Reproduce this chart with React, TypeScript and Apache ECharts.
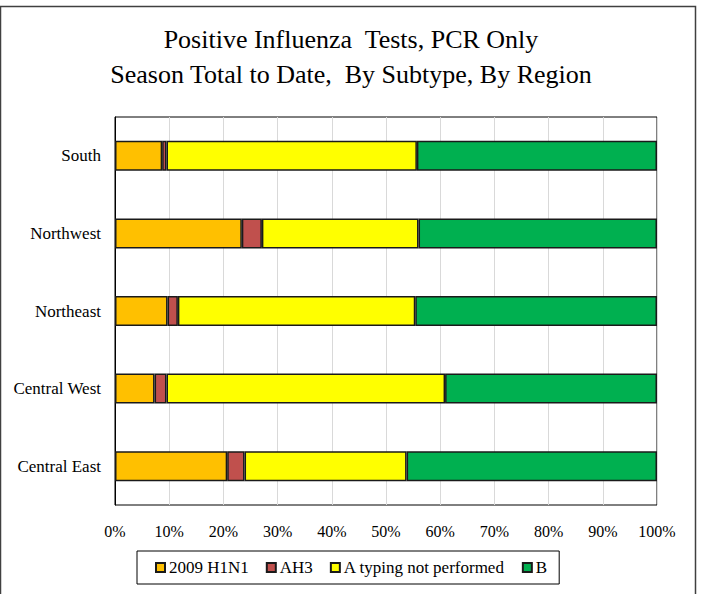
import React, { useEffect, useRef } from "react";
import * as echarts from "echarts";

const regions = ["South", "Northwest", "Northeast", "Central West", "Central East"];
const h1n1 = [8.7, 23.4, 9.7, 7.3, 20.7];
const ah3 = [0.8, 3.7, 1.9, 2.2, 3.2];
const aNotTyped = [46.2, 28.9, 43.8, 51.4, 29.9];
const bType = [44.3, 44.0, 44.6, 39.1, 46.2];
const xTicks = [0, 10, 20, 30, 40, 50, 60, 70, 80, 90, 100];

const seriesNames = ["2009 H1N1", "AH3", "A typing not performed", "B"];
const seriesColors = ["#FFC000", "#C0504D", "#FFFF00", "#00B050"];
const seriesData = [h1n1, ah3, aNotTyped, bType];

const FONT = '"Liberation Serif", "Times New Roman", serif';

export default function App() {
  const ref = useRef<HTMLDivElement>(null);
  useEffect(() => {
    if (!ref.current) return;
    const chart = echarts.init(ref.current, null, { renderer: "svg" });
    chart.setOption({
      animation: false,
      backgroundColor: "#ffffff",
      textStyle: { fontFamily: FONT },
      title: {
        text: "Positive Influenza  Tests, PCR Only\nSeason Total to Date,  By Subtype, By Region",
        left: "center",
        top: 17,
        textStyle: {
          fontFamily: FONT,
          fontSize: 26,
          fontWeight: "normal",
          color: "#000",
          lineHeight: 35,
        },
      },
      graphic: [
        {
          type: "rect",
          shape: { x: 0.5, y: 6.5, width: 695, height: 600 },
          style: { fill: "none", stroke: "#404040", lineWidth: 1.5 },
          silent: true,
        },
      ],
      legend: {
        data: seriesNames,
        left: 137,
        top: 551,
        padding: [8, 12, 8, 18],
        itemGap: 17,
        itemWidth: 9,
        itemHeight: 9,
        icon: "rect",
        borderColor: "#000",
        borderWidth: 1,
        textStyle: { fontFamily: FONT, fontSize: 17, color: "#000", padding: [0, 0, 0, -1] },
      },
      grid: {
        left: 115,
        right: 45,
        top: 117,
        bottom: 89,
        show: true,
        borderColor: "#000",
        borderWidth: 1,
        containLabel: false,
      },
      xAxis: {
        type: "value",
        min: xTicks[0],
        max: xTicks[xTicks.length - 1],
        interval: 10,
        axisLine: { show: false },
        axisTick: { show: false },
        splitLine: { show: true, lineStyle: { color: "#d9d9d9", width: 1 } },
        axisLabel: {
          formatter: "{value}%",
          fontFamily: FONT,
          fontSize: 16,
          color: "#000",
          margin: 18,
        },
      },
      yAxis: {
        type: "category",
        data: regions,
        inverse: true,
        axisLine: { show: true, lineStyle: { color: "#000", width: 1 } },
        axisTick: { show: false },
        axisLabel: { fontFamily: FONT, fontSize: 17, color: "#000", margin: 14 },
      },
      series: seriesNames.map((name, i) => ({
        name,
        type: "bar",
        stack: "total",
        barWidth: 30,
        data: seriesData[i],
        itemStyle: { color: seriesColors[i], borderColor: "#1a1a1a", borderWidth: 1.5 },
      })),
    });
    return () => chart.dispose();
  }, []);
  return (
    <div
      ref={ref}
      style={{ position: "fixed", left: 0, top: 0, width: 702, height: 594, background: "#fff" }}
    />
  );
}
